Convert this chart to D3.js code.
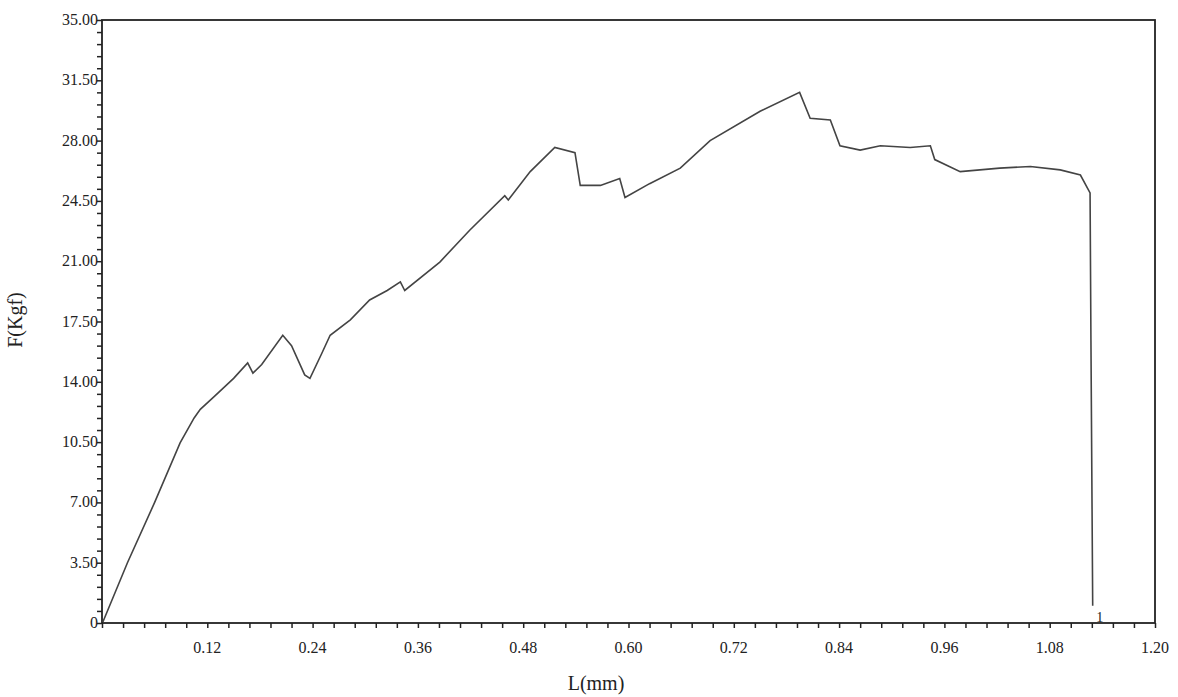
<!DOCTYPE html>
<html>
<head>
<meta charset="UTF-8">
<script src="https://d3js.org/d3.v7.min.js"></script>
<style>
  body { margin: 0; background: #fff; }
  text { font-family: "Liberation Serif", serif; fill: #222; }
</style>
</head>
<body>
<svg id="chart" width="1178" height="697"></svg>
<script>
const lengths = [0.001, 0.029, 0.060, 0.089, 0.105, 0.112, 0.129, 0.150, 0.166, 0.172, 0.182, 0.206, 0.216, 0.231, 0.237,
  0.250, 0.260, 0.283, 0.305, 0.325, 0.340, 0.345, 0.385, 0.419, 0.459, 0.463, 0.488, 0.516, 0.539, 0.545,
  0.568, 0.590, 0.596, 0.624, 0.659, 0.693, 0.750, 0.795, 0.807, 0.830, 0.841, 0.864, 0.887,
  0.921, 0.944, 0.949, 0.978, 1.023, 1.058, 1.092, 1.115, 1.126, 1.127, 1.129];
const forces = [0.06, 3.5, 7.0, 10.45, 11.9, 12.4, 13.2, 14.2, 15.1, 14.5, 15.0, 16.7, 16.1, 14.4, 14.2,
  15.6, 16.7, 17.6, 18.75, 19.3, 19.8, 19.3, 20.95, 22.8, 24.8, 24.55, 26.2, 27.6, 27.3, 25.4,
  25.4, 25.8, 24.7, 25.5, 26.4, 28.0, 29.7, 30.8, 29.3, 29.2, 27.7, 27.45, 27.7,
  27.6, 27.7, 26.9, 26.2, 26.4, 26.5, 26.3, 26.0, 24.96, 16.4, 1.0];
const xTicks = [0.12, 0.24, 0.36, 0.48, 0.60, 0.72, 0.84, 0.96, 1.08, 1.20];
const yTicks = [0, 3.5, 7, 10.5, 14, 17.5, 21, 24.5, 28, 31.5, 35];

const svg = d3.select('#chart');
const x = d3.scaleLinear().domain([0, 1.2]).range([102, 1155]);
const y = d3.scaleLinear().domain([0, 35]).range([623, 20]);

// frame
svg.append('rect').attr('x', 102).attr('y', 20).attr('width', 1053).attr('height', 603)
  .attr('fill', 'none').attr('stroke', '#222').attr('stroke-width', 1.8);

const xAxis = svg.append('g').attr('transform', 'translate(0,623)')
  .call(d3.axisBottom(x).tickValues(d3.range(0, 51).map(i => i * 0.024)).tickSize(5).tickFormat(''));
xAxis.select('.domain').remove();
xAxis.selectAll('line').attr('stroke', '#222').attr('stroke-width', 1.5);
svg.append('g').selectAll('text').data(xTicks).join('text')
  .attr('x', d => x(d)).attr('y', 653).attr('text-anchor', 'middle')
  .attr('font-size', 16).text(d => d.toFixed(2));

const yAxis = svg.append('g').attr('transform', 'translate(102,0)')
  .call(d3.axisLeft(y).tickValues(d3.range(0, 51).map(i => i * 0.7)).tickSize(5).tickFormat(''));
yAxis.select('.domain').remove();
yAxis.selectAll('line').attr('stroke', '#222').attr('stroke-width', 1.5);
svg.append('g').selectAll('text').data(yTicks).join('text')
  .attr('x', 98).attr('y', d => y(d) + 5).attr('text-anchor', 'end')
  .attr('font-size', 16).text(d => d === 0 ? '0' : d.toFixed(2));

const pts = lengths.map((l, i) => [l, forces[i]]);
svg.append('path').datum(pts)
  .attr('d', d3.line().x(d => x(d[0])).y(d => y(d[1])))
  .attr('fill', 'none').attr('stroke', '#444').attr('stroke-width', 1.6);

svg.append('text').attr('x', x(1.133)).attr('y', 622).attr('font-size', 14).text('1');

svg.append('text').attr('x', 596).attr('y', 690).attr('text-anchor', 'middle')
  .attr('font-size', 20).text('L(mm)');
svg.append('text').attr('transform', 'translate(22,320) rotate(-90)').attr('text-anchor', 'middle')
  .attr('font-size', 20).text('F(Kgf)');
</script>
</body>
</html>
